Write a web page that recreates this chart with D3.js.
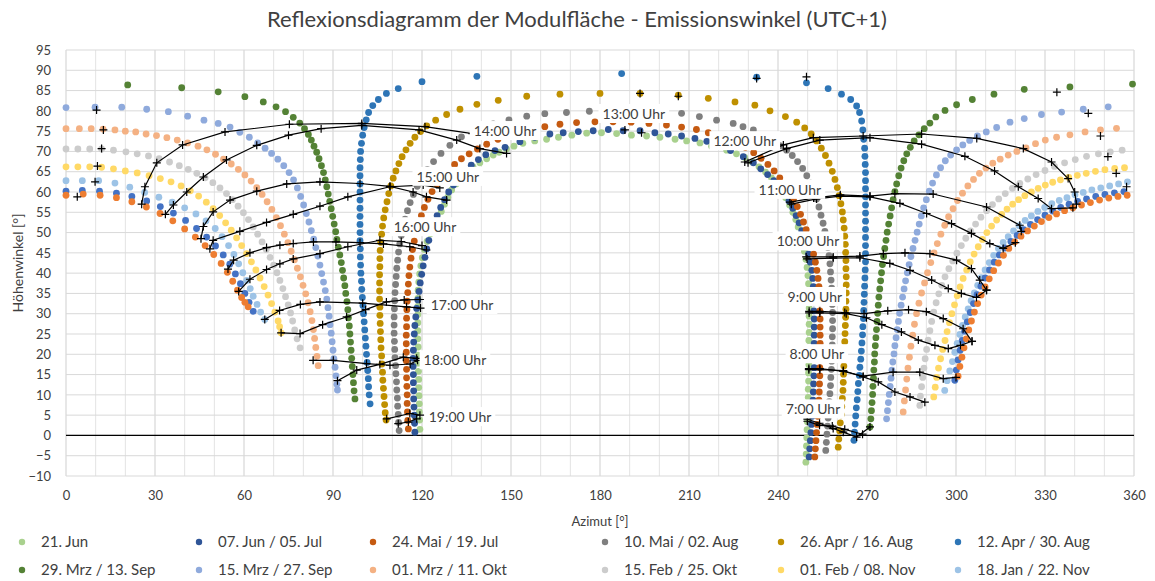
<!DOCTYPE html>
<html>
<head>
<meta charset="utf-8">
<script src="https://cdn.jsdelivr.net/npm/d3@7"></script>
<style>
  body { margin: 0; background: #fff; }
  svg { font-family: Lato, "Open Sans", sans-serif; }
</style>
</head>
<body>
<svg id="chart" width="1155" height="581"></svg>
<script>
// ---- data (azimut, hoehenwinkel) ----
var seriesNames = ['21. Jun', '07. Jun / 05. Jul', '24. Mai / 19. Jul', '10. Mai / 02. Aug',
    '26. Apr / 16. Aug', '12. Apr / 30. Aug', '29. Mrz / 13. Sep', '15. Mrz / 27. Sep',
    '01. Mrz / 11. Okt', '15. Feb / 25. Okt', '01. Feb / 08. Nov', '18. Jan / 22. Nov',
    '04. Jan / 07. Dez', '21. Dez'];
var seriesColors = ['#a9d18e', '#2f5597', '#c55a11', '#7f7f7f', '#bf9000', '#2e75b6', '#548235',
    '#8faadc', '#f4b183', '#cccccc', '#ffd966', '#9dc3e6', '#4472c4', '#ed7d31'];

var jun21 = [[249.4,-6.6],[249.5,-4.6],[249.6,-2.6],[249.7,-0.6],[249.8,1.4],[249.9,3.4],[250,5.4],[250.1,7.4],[250.2,9.4],[250.2,11.4],[250.3,13.4],[250.3,15.4],[250.4,17.4],[250.4,19.4],[250.4,21.4],[250.4,23.4],[250.5,25.4],[250.5,27.4],[250.5,29.4],[250.5,31.4],[250.5,33.4],[250.4,35.4],[250.3,37.4],[250.1,39.4],[249.8,41.4],[249.4,43.4],[248.9,45.4],[248.3,47.4],[247.6,49.4],[246.8,51.4],[246,53.2],[245,55],[243.9,56.8],[242.6,58.6],[241.1,60.3],[239.5,62],[237.8,63.5],[235.8,64.9],[233.6,66.2],[231.3,67.4],[228.8,68.5],[226,69.4],[222.7,70.3],[217.6,71.3],[213.7,72.1],[209.2,72.6],[205.3,73],[200.2,73.5],[195.7,73.8],[190.6,74],[185.6,74.4],[180.5,74.6],[175.5,74.5],[170.5,74],[166,73.5],[162,73],[158,72.6],[154,72],[151,71.3],[148.5,70.6],[146,69.8],[144,69.1],[141.8,68.2],[139.5,67.2],[137.2,66.2],[135,65],[133.2,63.5],[131.5,62],[130,60.5],[128.7,58.7],[127.6,57],[126.5,55.2],[125.3,53.3],[124,51.5],[122.8,49.7],[121.7,47.8],[120.8,45.8],[120.1,43.8],[119.6,41.8],[119.2,39.8],[118.9,37.8],[118.7,35.8],[118.6,33.8],[118.6,31.8],[118.6,29.8],[118.6,27.8],[118.6,25.8],[118.6,23.8],[118.7,21.8],[118.7,19.8],[118.8,17.8],[118.8,15.8],[118.9,13.8],[118.9,11.8],[119,9.8],[119.1,7.8],[119.1,5.8],[119.2,3.8],[119.3,1.5]];
var jun07 = [[250.5,-5.3],[250.7,-3.3],[250.9,-1.3],[251.1,0.7],[251.3,2.7],[251.5,4.7],[251.6,6.7],[251.8,8.7],[251.9,10.7],[252,12.7],[252.1,14.7],[252.2,16.7],[252.2,18.7],[252.2,20.7],[252.2,22.7],[252.2,24.7],[252.2,26.7],[252.2,28.7],[252.1,30.7],[252.1,32.7],[252,34.7],[251.9,36.7],[251.7,38.7],[251.4,40.7],[250.9,42.7],[250.3,44.7],[249.6,46.7],[248.9,48.6],[248,50.5],[247.1,52.4],[246.1,54.2],[245,56],[243.7,57.8],[242.3,59.5],[240.6,61.2],[238.6,62.8],[236.5,64.3],[234.2,65.7],[231.7,67.2],[228.3,68.7],[224,70.2],[220,71.4],[216,72.5],[212,73.2],[207.5,73.8],[203,74.3],[198.5,74.6],[193.5,75.1],[187.8,75.1],[182.8,75.4],[177.7,75.1],[172.7,74.9],[167.6,74.6],[163.1,74.3],[158,73.5],[153,72.4],[148,71],[144.6,70.2],[141.5,69.2],[139,68],[136.6,66.6],[134.4,65],[132.4,63.4],[130.6,61.7],[129,60],[127.6,58.1],[126.3,56.2],[125.1,54.2],[124,52.2],[123.1,50.2],[122.3,48.1],[121.6,46],[121,43.9],[120.4,41.8],[119.9,39.7],[119.4,37.6],[119,35.5],[118.6,33.4],[118.2,31.3],[117.9,29.2],[117.6,27.1],[117.4,25],[117.2,23],[117.1,21],[117,19],[117,17],[117.1,15],[117.1,13],[117.2,11],[117.2,9],[117.3,7],[117.4,5],[117.5,3],[117.6,0.8]];
var mai24 = [[252.4,-5.3],[252.6,-3.3],[252.8,-1.3],[253,0.7],[253.2,2.7],[253.4,4.7],[253.6,6.7],[253.8,8.7],[253.9,10.7],[254,12.7],[254.1,14.7],[254.1,16.7],[254.2,18.7],[254.2,20.7],[254.2,22.7],[254.2,24.7],[254.2,26.7],[254.2,28.7],[254.1,30.7],[254.1,32.7],[254,34.7],[253.8,36.7],[253.5,38.7],[253.1,40.7],[252.6,42.7],[252,44.7],[251.2,46.7],[250.4,48.7],[249.5,50.7],[248.6,52.6],[247.6,54.5],[246.5,56.4],[245.2,58.2],[243.8,60],[242.3,61.8],[240.6,63.5],[238.7,65.2],[236.6,66.8],[234.3,68.3],[231.8,69.7],[229,71],[225.5,72.3],[221,73.5],[216.5,74.6],[212.5,75.4],[207.5,76],[202.4,76.5],[196.5,76.9],[190.5,77.2],[184.4,77.3],[178.3,77.3],[172.1,77.1],[166.5,76.7],[161.4,76.1],[156,75.2],[150.5,74.2],[145.6,73],[141.8,71.8],[138.7,70.6],[135.9,69.4],[133.3,68.2],[131,66.8],[128.8,65.2],[126.8,63.6],[125,61.9],[123.4,60.1],[122,58.2],[120.8,56.2],[119.8,54.2],[118.9,52.1],[118.1,50],[117.4,47.9],[116.8,45.8],[116.3,43.7],[115.9,41.5],[115.6,39.4],[115.4,37.3],[115.2,35.2],[115,33.1],[114.9,31],[114.8,28.9],[114.8,26.8],[114.7,24.7],[114.7,22.6],[114.7,20.5],[114.7,18.4],[114.8,16.3],[114.8,14.2],[114.9,12.1],[115,10],[115,7.9],[115.1,5.8],[115.2,3.7],[115.4,1.6]];
var mai10 = [[256.1,-3.7],[256.3,-1.7],[256.5,0.3],[256.7,2.3],[256.9,4.3],[257.1,6.3],[257.3,8.3],[257.5,10.3],[257.7,12.3],[257.8,14.3],[258,16.3],[258.1,18.3],[258.2,20.3],[258.3,22.3],[258.3,24.3],[258.4,26.3],[258.4,28.3],[258.4,30.3],[258.3,32.3],[258.2,34.3],[258.1,36.3],[257.9,38.3],[257.7,40.3],[257.5,42.3],[257.2,44.3],[256.8,46.3],[256.3,48.3],[255.8,50.3],[255.2,52.3],[254.5,54.3],[253.8,56.3],[253,58.3],[252.1,60.3],[251,62.2],[249.7,64],[248.3,65.8],[246.6,67.5],[244.8,69],[242.9,70.3],[240.6,71.4],[238,72.6],[235,73.8],[231.7,75.3],[228.2,76.1],[224.9,76.9],[219.3,77.7],[213.5,78.6],[207.5,79.4],[200.2,79.8],[192,80.1],[184,80.1],[176.4,79.9],[168.7,79.6],[161.4,79.3],[155.3,78.7],[149.3,77.8],[144,76.8],[138.7,75.3],[133.3,73.6],[129.4,71.5],[126.4,69.5],[123.9,67.5],[121.8,65.5],[119.9,63.5],[118.4,61.4],[117.1,59.4],[116,57.4],[115.1,55.4],[114.3,53.3],[113.6,51.3],[113,49.3],[112.5,47.2],[112.1,45.2],[111.8,43.2],[111.5,41.2],[111.3,39.2],[111.1,37.2],[110.9,35.2],[110.8,33.2],[110.7,31.2],[110.6,29.2],[110.6,27.2],[110.6,25.2],[110.7,23.2],[110.8,21.2],[110.9,19.2],[111.1,17.2],[111.2,15.2],[111.4,13.2],[111.5,11.2],[111.7,9.2],[111.8,7.2],[112,5.2],[112.1,3.2],[112.3,1.2]];
var apr26 = [[260.3,-2.9],[260.5,-0.9],[260.8,1.1],[261,3.1],[261.3,5.1],[261.5,7.1],[261.7,9.1],[261.9,11.1],[262,13.1],[262.1,15.1],[262.2,17.1],[262.3,19.1],[262.4,21.1],[262.5,23.1],[262.6,25.1],[262.7,27.1],[262.8,29.1],[262.9,31.1],[262.9,33.1],[263,35.1],[263,37.1],[263,39.1],[262.9,41.1],[262.9,43.1],[262.8,45.1],[262.7,47.1],[262.5,49.1],[262.3,51.1],[262,53.1],[261.7,55.1],[261.2,57.1],[260.6,59.1],[260,61.1],[259.2,63.1],[258.3,65.1],[257.2,67.1],[256,69],[254.6,70.8],[253,72.6],[251.2,74.3],[249,75.8],[246.3,77.2],[242.5,78.6],[237.3,80],[232.2,81.4],[225.5,82.2],[216.5,83.1],[206.4,83.9],[193.5,84.3],[180,84.3],[166.5,84.1],[155.3,83.6],[145.7,82.6],[138.5,81.6],[132.8,80.4],[128.3,79.1],[124.6,77.7],[121.6,76.3],[119.5,74.9],[117.6,73.5],[116,72],[114.6,70.4],[113.3,68.7],[112.2,67],[111.2,65.2],[110.3,63.4],[109.5,61.5],[108.8,59.6],[108.2,57.6],[107.6,55.6],[107.1,53.6],[106.7,51.6],[106.4,49.6],[106.1,47.6],[105.9,45.6],[105.8,43.6],[105.8,41.6],[105.7,39.6],[105.7,37.6],[105.7,35.6],[105.7,33.6],[105.8,31.6],[105.8,29.6],[105.9,27.6],[106,25.6],[106.1,23.6],[106.2,21.6],[106.4,19.6],[106.5,17.6],[106.7,15.6],[106.8,13.6],[107,11.6],[107.2,9.6],[107.4,7.6],[107.6,5.6],[107.9,3.8]];
var apr12 = [[265.6,-1.2],[265.8,0.8],[266,2.8],[266.2,4.8],[266.4,6.8],[266.7,8.8],[266.9,10.8],[267.1,12.8],[267.4,14.8],[267.6,16.8],[267.9,18.8],[268.1,20.8],[268.3,22.8],[268.5,24.8],[268.6,26.8],[268.8,28.8],[268.9,30.8],[269,32.8],[269.1,34.8],[269.2,36.8],[269.3,38.8],[269.4,40.8],[269.5,42.8],[269.5,44.8],[269.5,46.8],[269.5,48.8],[269.5,50.8],[269.5,52.8],[269.5,54.8],[269.5,56.8],[269.5,58.8],[269.5,60.8],[269.5,62.8],[269.5,64.8],[269.4,66.8],[269.3,68.8],[269.2,70.8],[268.9,73],[268.6,75.3],[268.2,77.5],[267.5,79.6],[266.5,81.2],[264.5,82.8],[261.4,84.1],[256.9,85.5],[249.6,86.9],[232.8,88.3],[187.3,89.2],[138.5,88.5],[120,87.2],[112,85.5],[108,84.3],[105.3,82.8],[103.4,81.3],[102,79.6],[101.2,77.8],[100.5,75.9],[100,74],[99.6,72],[99.3,70],[99.2,68],[99.1,66],[99.1,64],[99.1,62],[99.1,60],[99.1,58],[99.1,56],[99.1,54],[99.1,52],[99.1,50],[99.1,48],[99.2,46],[99.2,44],[99.3,42],[99.4,40],[99.6,38],[99.7,36],[99.9,34],[100.1,32],[100.3,30],[100.5,28],[100.7,26],[100.9,24],[101.1,22],[101.3,20],[101.5,18],[101.7,16],[101.9,14],[102,12],[102.2,10],[102.5,7.8]];
var mrz29 = [[271,2.1],[271.3,4.1],[271.5,6.1],[271.7,8.1],[271.9,10.1],[272,12.1],[272.2,14.1],[272.3,16.1],[272.5,18.1],[272.6,20.1],[272.8,22.1],[273,24.1],[273.2,26.1],[273.4,28.1],[273.6,30.1],[273.8,32.1],[274,34.1],[274.3,36.1],[274.6,38.1],[274.9,40.1],[275.2,42.1],[275.6,44.1],[276,46.1],[276.4,48.1],[276.8,50.1],[277.3,52.1],[277.8,54.1],[278.3,56.1],[278.8,58.1],[279.4,60.1],[280,62],[280.7,64],[281.5,65.9],[282.4,67.7],[283.4,69.4],[284.6,71],[285.9,72.6],[287.5,74.1],[289.3,75.6],[291.2,77],[293.2,78.5],[296.3,80.1],[300.2,81.5],[305.5,82.8],[312.8,84.1],[323,85.3],[338.4,85.9],[359.5,86.6],
    [20.8,86.4],[39,85.7],[51.3,84.7],[60.3,83.5],[66.5,82.2],[70.8,81],[74,79.8],[76.6,78.4],[78.8,77],[80.4,75.6],[81.7,74.2],[82.7,72.8],[83.6,71.3],[84.5,69.8],[85.3,68.2],[86.1,66.5],[86.8,64.8],[87.4,63],[87.9,61.3],[88.4,59.5],[88.9,57.7],[89.4,55.9],[89.9,54],[90.4,52.1],[90.9,50.2],[91.3,48.3],[91.8,46.4],[92.3,44.5],[92.8,42.6],[93.2,40.7],[93.6,38.8],[94,36.9],[94.3,35],[94.7,33],[95,31],[95.2,29],[95.5,27],[95.7,25],[95.9,23],[96.1,21],[96.3,19],[96.5,17],[96.7,15],[96.9,13],[97.1,11],[97.4,9]];
var mrz15 = [[276.6,4.1],[276.9,6.1],[277.2,8.1],[277.5,10.1],[277.8,12.1],[278.1,14.1],[278.4,16.1],[278.7,18.1],[279.1,20.1],[279.4,22.1],[279.8,24.1],[280.2,26.1],[280.6,28.1],[281,30.1],[281.5,32.1],[282,34.1],[282.5,36.1],[283,38.1],[283.6,40.1],[284.2,42.1],[284.8,44.1],[285.5,46.1],[286.2,48.1],[286.9,50.1],[287.6,52.1],[288.3,54.1],[289.1,56.1],[290,58.1],[291,60.2],[292.1,62.2],[293.4,64.2],[294.8,66],[296.4,67.7],[298.2,69.1],[300.2,70.4],[302.3,71.6],[304.6,72.7],[307.2,73.8],[310.2,74.8],[313.7,75.9],[318.2,77.2],[323,78.1],[328.8,79.1],[335.6,79.7],[342.9,80.4],[351.3,81],
    [0,80.8],[9.8,80.9],[18.8,80.9],[27.2,80.4],[34.5,79.8],[41,78.7],[46.5,77.7],[51.3,76.9],[55.3,76],[58.6,74.7],[61.8,73.5],[64.6,72.1],[67.1,70.8],[69.3,69.5],[71.4,68.1],[73.4,66.5],[75.2,64.8],[76.7,63],[78,61],[79.1,58.9],[80.1,56.8],[81,54.7],[81.9,52.6],[82.7,50.5],[83.5,48.4],[84.2,46.3],[84.9,44.2],[85.6,42],[86.2,39.9],[86.8,37.8],[87.4,35.7],[87.9,33.6],[88.3,31.5],[88.7,29.4],[89,27.3],[89.4,25.2],[89.7,23.1],[90,21],[90.3,18.9],[90.7,16.8],[91,14.7],[91.3,12.6],[91.5,11.2]];
var mrz01 = [[282.2,5.8],[282.6,8.5],[283,11.2],[283.4,13.9],[283.8,16.6],[284.3,19.3],[284.8,22],[285.4,24.7],[286,27.4],[286.7,30],[287.5,32.6],[288.4,35.1],[289.4,37.6],[290.4,40.1],[291.5,42.6],[292.6,45],[293.7,47.3],[294.9,49.6],[296.2,51.8],[297.5,53.9],[299,55.9],[300.5,57.9],[302.2,59.7],[304,61.5],[305.9,63.1],[307.9,64.6],[310.1,65.9],[312.4,67.1],[314.9,68.1],[317.6,69.1],[320.5,70],[323.6,70.9],[326.8,71.9],[330.1,72.8],[333.9,73.5],[338.4,74.1],[343.5,74.8],[348.7,75.3],[354.1,75.7],
    [0,75.6],[4.5,75.6],[8.5,75.6],[12.5,75.5],[16.5,75.3],[20,75],[23.5,74.8],[27,74.3],[30.5,73.9],[34,73.4],[37.5,72.8],[41,72.1],[44.5,71.3],[47.5,70.4],[50.4,69.3],[53.1,68.1],[55.7,66.9],[58.1,65.6],[60.3,64.2],[62.4,62.7],[64.3,61.1],[66.1,59.4],[67.8,57.6],[69.4,55.7],[70.9,53.7],[72.3,51.7],[73.6,49.6],[74.8,47.5],[75.9,45.4],[77,43.3],[78,41.2],[79,39.1],[79.9,37],[80.8,34.9],[81.6,32.7],[82.3,30.5],[82.9,28.3],[83.4,26.1],[83.8,23.9],[84.2,21.7],[84.6,19.5],[85,17.2]];
var feb15 = [[287.8,7.4],[288,9.7],[288.4,12],[288.8,14.3],[289.2,16.6],[289.6,18.9],[290.1,21.2],[290.6,23.5],[291.2,25.8],[291.8,28.1],[292.5,30.4],[293.3,32.7],[294.2,34.9],[295.2,37],[296.3,39.1],[297.6,41.1],[298.9,43],[300.3,44.9],[301.8,46.8],[303.3,48.6],[304.9,50.4],[306.6,52.1],[308.4,53.8],[310.3,55.4],[312.3,56.9],[314.4,58.3],[316.6,59.6],[319,60.9],[321.5,62.1],[324.2,63.2],[327,64.3],[330,65.3],[333.2,66.3],[336.6,67.2],[340.2,68],[344,68.8],[348,69.4],[352,69.9],[356,70.3],
    [0,70.6],[4,70.6],[8,70.6],[12,70.6],[16,70.3],[20.2,69.9],[24,69.4],[27.8,68.9],[31.4,68.2],[34.9,67.4],[38.2,66.5],[41.2,65.6],[44.1,64.6],[46.9,63.5],[49.5,62.3],[51.9,61],[54.1,59.6],[56.1,58.1],[58,56.5],[59.8,54.9],[61.5,53.2],[63.1,51.4],[64.6,49.6],[66.1,47.7],[67.5,45.8],[68.8,43.9],[70,42],[71.1,40.1],[72.1,38.2],[73.1,36.2],[74,34.2],[74.9,32.2],[75.7,30.2],[76.4,28.2],[77.1,26],[77.9,23.8],[78.9,21.6]];
var feb01 = [[292.5,9.5],[293,11.9],[293.5,14.3],[294.1,16.6],[294.8,18.9],[295.5,21.2],[296.3,23.4],[297,25.6],[297.8,27.8],[298.6,30],[299.5,32.2],[300.4,34.4],[301.4,36.6],[302.4,38.7],[303.6,40.8],[304.8,42.8],[306.1,44.7],[307.5,46.5],[308.9,48.3],[310.4,50],[312,51.6],[313.7,53.1],[315.4,54.5],[317.2,55.8],[319.1,57],[321.1,58.1],[323.2,59.1],[325.4,60],[327.7,60.9],[330.1,61.7],[332.6,62.4],[335.2,63],[338,63.6],[340.9,64.1],[343.9,64.6],[347,65.1],[350.2,65.5],[353.5,65.8],[356.8,66],
    [0,66.2],[4,66.2],[8,66.2],[12,66.1],[16,65.7],[20,65.2],[24,64.7],[28,64],[31.8,63.3],[35.4,62.5],[38.8,61.5],[41.9,60.3],[44.7,59],[47.3,57.5],[49.6,55.9],[51.8,54.2],[53.8,52.4],[55.7,50.6],[57.5,48.7],[59.2,46.8],[60.9,44.8],[62.5,42.8],[64,40.8],[65.4,38.8],[66.8,36.7],[68.1,34.6],[69.3,32.5],[70.4,30.4],[71.5,28.2],[72,26.8],[72.5,25.3]];
var jan18 = [[296.2,11.1],[297,13.5],[297.9,15.9],[298.8,18.2],[299.6,20.5],[300.4,22.7],[301.3,24.9],[302.2,27.1],[303.1,29.2],[304.1,31.2],[305.1,33.2],[306.2,35.1],[307.3,37],[308.5,38.9],[309.8,40.8],[311.2,42.6],[312.7,44.4],[314.3,46.1],[315.9,47.6],[317.6,49],[319.4,50.4],[321.3,51.7],[323.3,53],[325.4,54.1],[327.6,55.2],[329.9,56.2],[332.3,57.1],[334.8,57.9],[337.4,58.6],[340.1,59.3],[342.9,59.9],[345.8,60.5],[348.8,61],[351.8,61.5],[354.8,62],[357.8,62.5],
    [0,62.8],[5.5,62.8],[11,62.8],[16.5,62.2],[21.5,61.2],[26.5,59.9],[31.3,58.7],[35.8,57.5],[40,56.1],[43.8,54.6],[47.2,52.9],[50.3,51],[52.6,49],[54.8,46.8],[56.6,44.6],[58.2,42.3],[59.6,40.1],[60.9,38.2],[62.1,36.2],[63.1,34.3],[64.4,32.3],[65.6,30.4],[67,28.6]];
var jan04 = [[299.6,13.6],[300.1,16.1],[300.7,18.6],[301.4,21],[302.1,23.4],[302.9,25.7],[303.8,28],[304.8,30.3],[305.9,32.5],[307.1,34.7],[308.4,36.8],[309.8,38.8],[311.3,40.8],[312.9,42.7],[314.6,44.5],[316.5,46.2],[318.5,47.8],[320.6,49.3],[322.8,50.7],[325.1,52],[327.5,53.2],[330,54.3],[332.6,55.3],[335.3,56.2],[338.1,57],[341,57.7],[344,58.3],[347.1,58.9],[350.2,59.4],[353.4,59.8],[356.6,60.1],
    [0,60.2],[5.5,60.4],[11.3,60.2],[17,59.7],[22.2,58.9],[27.2,57.8],[31.8,56.4],[36.2,54.8],[40.3,53],[44,51],[47.4,48.9],[50.4,46.7],[53,44.5],[55.2,42.2],[57.1,39.8],[58.8,37.4],[60.3,35],[61.7,32.8],[63.1,30.6]];
var dez21 = [[300.7,14.6],[301.3,17],[302,19.3],[302.7,21.6],[303.5,23.8],[304.3,26],[305.2,28.2],[306.2,30.4],[307.3,32.5],[308.5,34.6],[309.8,36.6],[311.2,38.6],[312.7,40.6],[314.3,42.5],[316,44.4],[317.8,46.1],[319.8,47.7],[321.9,49.1],[324.1,50.4],[326.4,51.6],[328.8,52.7],[331.3,53.7],[333.9,54.6],[336.6,55.4],[339.4,56.1],[342.3,56.8],[345.3,57.4],[348.4,58],[351.5,58.5],[354.6,58.9],[357.7,59.2],
    [0,59.2],[5.8,59.5],[11.5,59.2],[17,58.6],[22.2,57.6],[27.1,56.3],[31.7,54.7],[36,52.9],[40,50.9],[43.6,48.9],[46.9,46.8],[49.8,44.6],[52.3,42.4],[54.4,40.2],[56.2,38],[57.8,35.8],[59.2,34],[60.3,32.8],[61.4,31.7]];
var seriesPoints = [jun21, jun07, mai24, mai10, apr26, apr12, mrz29, mrz15, mrz01, feb15, feb01, jan18, jan04, dez21];

// hour lines (Uhrzeit-Linien), two per hour
var hourLines = [
    [[25.5,57],[26.6,61.3],[30.6,67.2],[39.3,71.6],[53.6,74.8],[75.3,76.7],[99.7,76.9],[121,76.1],[137,74.4]],
    [[33.5,54.5],[36.2,56.8],[40.7,60],[46.3,63.7],[54.1,67.9],[64.3,71.5],[75,74],[86,75.6],[99.7,76.4],[119,75.3],[131.7,72.8],[139.5,70.7],[148.5,69.5]],
    [[45.5,48.5],[46.3,51.5],[49.6,55.1],[55.3,58],[64.3,60.2],[74.4,62],[85.6,62.5],[99.1,62.1],[109.2,61.4],[117,60],[121.5,58.8],[128.3,58]],
    [[48.5,46],[49.6,48.1],[58.6,50.3],[67.6,52.5],[76.6,54.5],[85.6,56.5],[95,58.8],[109.2,61.3],[120.4,61.7],[126,61]],
    [[54.6,41],[56.5,43.2],[62,45],[67.6,46.3],[72.1,46.9],[76.6,47.3],[83.4,47.7],[91,47.7],[99.1,47.5],[107,47.2],[115.9,46.5],[121.5,45.7]],
    [[58.2,35.5],[62,38.5],[67.6,40.9],[72.1,42.3],[76.6,43.5],[85.6,44.8],[95,46.5],[105.8,48.1],[113,47.8],[120,46.8]],
    [[67,28.6],[72,30.8],[79,32.3],[85.6,32.9],[100,32.6],[114.8,31.7],[119.5,31.4]],
    [[72.5,25.3],[78.9,25.1],[86.5,27.3],[94.6,29.2],[101,31],[108,32.9],[114,33.4],[119.3,33.5]],
    [[83.3,18.5],[90.1,18.5],[101.3,17.7],[109.2,17.3],[116,17.6],[118.5,18.5]],
    [[91.5,13.5],[98,16.1],[105.8,17.5],[113.7,19.3],[118.2,19]],
    [[108.1,4.1],[115.9,5.4],[119.3,5]],
    [[112,2.9],[115.4,3.3],[118.2,4.1]],
    [[228.8,67.4],[241.8,71.6],[251.9,73.4],[268.7,73.8],[288.4,74.3],[307,73.2],[322.7,70.7],[332.2,67.4],[337.8,63.3],[340,60],[340.6,57]],
    [[229.9,67.2],[242.9,70.7],[254.1,72.8],[271,73.4],[288.4,71.8],[303,68.8],[313,65.2],[321,61.3],[327.7,58.4],[332.2,55.9],[339.4,56.1]],
    [[244,57.5],[252,58.5],[261,59.3],[271,59],[279.4,59.6],[292.3,59.5],[310.3,56.3],[321.5,51.8],[322,50.3]],
    [[244.5,57],[253,58.3],[261,59],[271,58.8],[281.1,57.2],[290.1,54.7],[298.5,52.2],[305.2,49.8],[311.4,47.3],[315.9,46.1],[320,47.5]],
    [[249.5,44],[258.6,44],[267.6,44.2],[275.5,44.8],[282.8,45],[291.2,44.8],[300.2,43.2],[305.2,41.1],[308,38.3],[310.3,35.8]],
    [[249.8,43.5],[258.6,43.7],[267.6,43.8],[277.7,42.4],[284.5,40.7],[291.8,38.3],[297.4,36.2],[301.8,35],[306.9,34],[310.3,35.8]],
    [[250.5,30.6],[254.1,30.6],[262.5,30.3],[269,30],[277,30.7],[284,31],[290,30.5],[295.7,28.8],[302.4,26.3],[305.4,23.2]],
    [[250.5,30.2],[254.1,30.2],[263,30],[269.8,29],[275,27.3],[281.6,25.5],[287.3,23.5],[292.9,22.2],[297.4,21.4],[301.5,22.2],[305.4,23.2]],
    [[250.4,16.5],[254.1,16.5],[262,15.8],[268.7,14.6],[278.8,15.6],[287.8,15.6],[295.7,14],[300,14.3]],
    [[250.4,16.2],[254.1,16.2],[262,16],[268.7,14.4],[273.8,13.2],[279.4,10.7],[284.5,9.5],[289.5,8.2]],
    [[249.9,4],[254,3],[258.6,1.7],[262,0.8],[266.5,-0.4],[271,2.1]],
    [[249.9,3.5],[254,2.5],[258.3,2.3],[262.5,1.5],[268.5,0.3]]
];
// 13:00 marks that have no visible line
var marks13 = [[188.4,75.3],[194,74.6],[193.5,84.3],[206.4,83.6],[232.8,88],[249.6,88.4],
    [334,84.6],[344.6,79.4],[348.7,73.8],[351.2,68.7],[354,64.6],[357.5,61.3],
    [10.3,80.2],[12.6,75.3],[12,70.7],[10.6,66.4],[9.8,62.5],[3.8,58.8]];

var hourLabels = ['13:00 Uhr', '14:00 Uhr', '15:00 Uhr', '16:00 Uhr', '17:00 Uhr', '18:00 Uhr', '19:00 Uhr',
    '12:00 Uhr', '11:00 Uhr', '10:00 Uhr', '9:00 Uhr', '8:00 Uhr', '7:00 Uhr'];
var hourLabelAz = [191.4, 148, 128.7, 121, 133.5, 131.1, 132.8, 228.8, 244, 250.1, 252.4, 253.1, 251.8];
var hourLabelEl = [79.2, 75, 63.7, 51.3, 32.1, 18.5, 4.5, 72.5, 60.5, 47.8, 34.1, 20, 6.4];

var xTicks = [0, 30, 60, 90, 120, 150, 180, 210, 240, 270, 300, 330, 360];
var yTicks = [-10, -5, 0, 5, 10, 15, 20, 25, 30, 35, 40, 45, 50, 55, 60, 65, 70, 75, 80, 85, 90, 95];

// ---- drawing ----
var svg = d3.select('#chart');
var textColor = '#404040';

var xScale = d3.scaleLinear().domain([0, 360]).range([66, 1134]);
var yScale = d3.scaleLinear().domain([-10, 95]).range([476, 50]);

// grid
var grid = svg.append('g');
grid.selectAll('.vgrid')
    .data(d3.range(0, 361, 10))
    .join('line')
    .attr('class', 'vgrid')
    .attr('x1', d => xScale(d)).attr('x2', d => xScale(d))
    .attr('y1', yScale(95)).attr('y2', yScale(-10))
    .attr('stroke', d => d % 30 === 0 ? '#cfcfcf' : '#e3e3e3')
    .attr('stroke-width', 1);
grid.selectAll('.hgrid')
    .data(yTicks)
    .join('line')
    .attr('class', 'hgrid')
    .attr('x1', xScale(0)).attr('x2', xScale(360))
    .attr('y1', d => yScale(d)).attr('y2', d => yScale(d))
    .attr('stroke', '#d9d9d9')
    .attr('stroke-width', 1);

// axes
var yAxis = svg.append('g')
    .attr('transform', `translate(${xScale(0)},0)`)
    .call(d3.axisLeft(yScale).tickValues(yTicks).tickSize(0).tickPadding(15));
var xAxis = svg.append('g')
    .attr('transform', `translate(0,${yScale(-10)})`)
    .call(d3.axisBottom(xScale).tickValues(xTicks).tickSize(0).tickPadding(15));
[xAxis, yAxis].forEach(a => {
    a.select('.domain').remove();
    a.selectAll('text')
        .style('font-family', 'Lato, sans-serif')
        .style('font-size', '13px')
        .attr('fill', textColor);
});

// axis line at 0
svg.append('line')
    .attr('x1', xScale(0)).attr('x2', xScale(360))
    .attr('y1', yScale(0)).attr('y2', yScale(0))
    .attr('stroke', '#000')
    .attr('stroke-width', 1.3);

// series dots
seriesPoints.forEach((pts, i) => {
    svg.append('g')
        .selectAll('circle')
        .data(pts)
        .join('circle')
        .attr('cx', d => xScale(d[0]))
        .attr('cy', d => yScale(d[1]))
        .attr('r', 3.4)
        .attr('fill', seriesColors[i]);
});

// hour lines with + markers
var lineGen = d3.line().x(d => xScale(d[0])).y(d => yScale(d[1]));
var plus = 'M-4,0H4M0,-4V4';
var hl = svg.append('g');
hourLines.forEach(pts => {
    hl.append('path')
        .datum(pts)
        .attr('d', lineGen)
        .attr('fill', 'none')
        .attr('stroke', '#000')
        .attr('stroke-width', 1.2);
    hl.append('g')
        .selectAll('path')
        .data(pts)
        .join('path')
        .attr('d', plus)
        .attr('transform', d => `translate(${xScale(d[0])},${yScale(d[1])})`)
        .attr('stroke', '#000')
        .attr('stroke-width', 1.2);
});
hl.append('g')
    .selectAll('path')
    .data(marks13)
    .join('path')
    .attr('d', plus)
    .attr('transform', d => `translate(${xScale(d[0])},${yScale(d[1])})`)
    .attr('stroke', '#000')
    .attr('stroke-width', 1.2);

// hour labels with white boxes
hourLabels.forEach((t, i) => {
    var g = svg.append('g')
        .attr('transform', `translate(${xScale(hourLabelAz[i])},${yScale(hourLabelEl[i])})`);
    var txt = g.append('text')
        .attr('text-anchor', 'middle')
        .attr('dy', '0.35em')
        .style('font-size', '14px')
        .attr('fill', textColor)
        .text(t);
    var b = txt.node().getBBox();
    g.insert('rect', 'text')
        .attr('x', b.x - 4).attr('y', b.y - 1)
        .attr('width', b.width + 8).attr('height', b.height + 2)
        .attr('fill', '#fff');
});

// title
svg.append('text')
    .attr('x', 577).attr('y', 27)
    .attr('text-anchor', 'middle')
    .style('font-size', '22px')
    .attr('fill', textColor)
    .text('Reflexionsdiagramm der Modulfläche - Emissionswinkel (UTC+1)');

// axis titles
svg.append('text')
    .attr('x', 600).attr('y', 526)
    .attr('text-anchor', 'middle')
    .style('font-size', '13px')
    .attr('fill', textColor)
    .text('Azimut [°]');
svg.append('text')
    .attr('transform', 'translate(23,263) rotate(-90)')
    .attr('text-anchor', 'middle')
    .style('font-size', '14px')
    .attr('fill', textColor)
    .text('Höhenwinkel [°]');

// legend (first 12 series, 6 per row)
var legendX = [22, 199, 373, 605, 781, 958];
var legendY = [542, 570];
var legend = svg.append('g');
seriesNames.slice(0, 12).forEach((name, i) => {
    var lx = legendX[i % 6], ly = legendY[Math.floor(i / 6)];
    legend.append('circle')
        .attr('cx', lx).attr('cy', ly).attr('r', 3.2)
        .attr('fill', seriesColors[i]);
    legend.append('text')
        .attr('x', lx + 19).attr('y', ly)
        .attr('dy', '0.35em')
        .style('font-size', '15px')
        .attr('fill', textColor)
        .text(name);
});
</script>
</body>
</html>
